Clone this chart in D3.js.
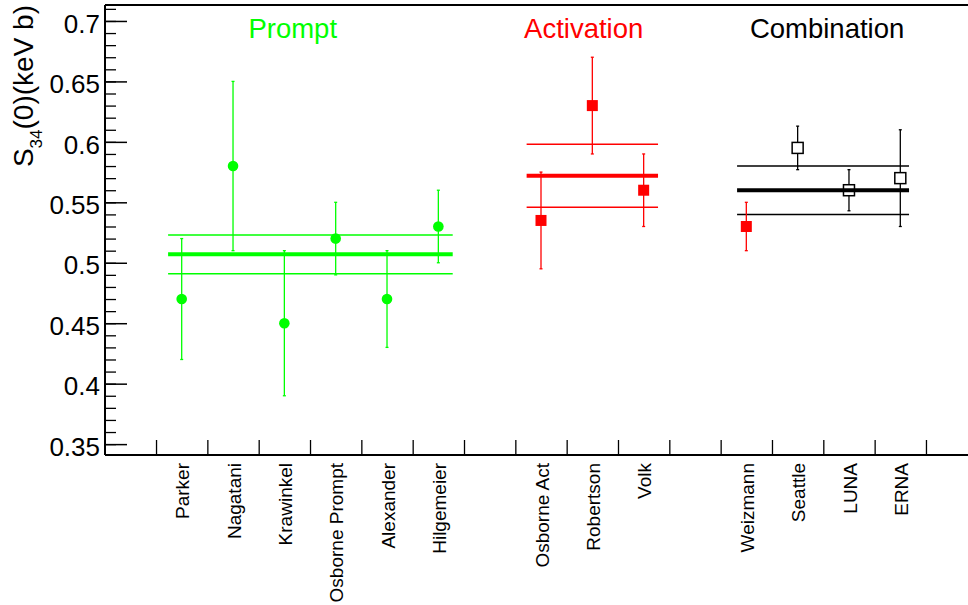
<!DOCTYPE html>
<html>
<head>
<meta charset="utf-8">
<script src="https://cdn.jsdelivr.net/npm/d3@7"></script>
<style>
  html, body { margin: 0; padding: 0; background: #fff; }
  svg { display: block; font-family: "Liberation Sans", Arial, Helvetica, sans-serif; }
</style>
</head>
<body>
<svg id="chart" width="968" height="605"></svg>
<script>
// Bin labels along the x axis (empty strings are spacer bins between groups)
const binLabels = ["Parker", "Nagatani", "Krawinkel", "Osborne Prompt", "Alexander", "Hilgemeier", "",
                   "Osborne Act", "Robertson", "Volk", "",
                   "Weizmann", "Seattle", "LUNA", "ERNA"];

// Prompt-gamma measurements S34(0) [keV b]
const promptNames  = ["Parker", "Nagatani", "Krawinkel", "Osborne Prompt", "Alexander", "Hilgemeier"];
const promptValues = [0.47, 0.58, 0.45, 0.52, 0.47, 0.53];
const promptErrors = [0.05, 0.07, 0.06, 0.03, 0.04, 0.03];

// Activation measurements
const activationNames  = ["Osborne Act", "Robertson", "Volk"];
const activationValues = [0.535, 0.63, 0.56];
const activationErrors = [0.04, 0.04, 0.03];

// Combined (prompt + activation) measurements
const combinationNames   = ["Weizmann", "Seattle", "LUNA", "ERNA"];
const combinationValues  = [0.53, 0.595, 0.56, 0.57];
const combinationErrors  = [0.02, 0.018, 0.017, 0.04];
const combinationSources = ["activation", "combined", "combined", "combined"];

// Weighted averages of each group: mean and its uncertainty
const groupNames  = ["Prompt", "Activation", "Combination"];
const groupMeans  = [0.507, 0.572, 0.560];
const groupErrors = [0.016, 0.026, 0.020];
// Horizontal extent of each average line, in bin units
const groupSpans  = [[1.235, 6.78], [8.22, 10.78], [12.32, 15.67]];
// Left edge of each group title, in bin units
const groupTitleX = [2.8, 8.17, 12.57];

// Y axis ticks
const yMajorTicks = [0.35, 0.4, 0.45, 0.5, 0.55, 0.6, 0.65, 0.7];
const yMinorTicks = d3.range(35, 72).map(v => v / 100);

const GREEN = "#00ff00", RED = "#ff0000", BLACK = "#000000";
const groupColors = [GREEN, RED, BLACK];

const svg = d3.select("#chart");
const W = 968, H = 605;
const plotLeft = 105, plotTop = 5, plotBottom = 455;

// x: bin units (bin i of binLabels spans [i+1, i+2]); y: S34 value
const x = d3.scaleLinear().domain([0, 17]).range([104.7, 977.3]);
const y = d3.scaleLinear().domain([0.341, 0.7132]).range([plotBottom, plotTop]);
const binCenter = name => x(binLabels.indexOf(name) + 1.5);

// ---- frame ----
const frame = svg.append("g").attr("stroke", "#000").attr("stroke-width", 2);
frame.append("line").attr("x1", plotLeft).attr("x2", W).attr("y1", plotTop).attr("y2", plotTop);
frame.append("line").attr("x1", plotLeft).attr("x2", W).attr("y1", plotBottom).attr("y2", plotBottom);
frame.append("line").attr("x1", plotLeft).attr("x2", plotLeft).attr("y1", plotTop).attr("y2", plotBottom);

// ---- y axis ----
const yMinor = svg.append("g").attr("transform", `translate(${plotLeft},0)`)
  .call(d3.axisLeft(y).tickValues(yMinorTicks).tickSize(-11).tickFormat(""));
yMinor.select(".domain").remove();
yMinor.selectAll(".tick line").attr("stroke", "#000").attr("stroke-width", 1.3);

const yMajor = svg.append("g").attr("transform", `translate(${plotLeft},0)`)
  .call(d3.axisLeft(y).tickValues(yMajorTicks).tickSize(-22).tickPadding(5)
        .tickFormat(d => String(d)));
yMajor.select(".domain").remove();
yMajor.selectAll(".tick line").attr("stroke", "#000").attr("stroke-width", 1.5);
yMajor.selectAll(".tick text")
  .attr("font-size", 26).attr("fill", "#000").attr("dy", "0.43em")
  .attr("font-family", "Liberation Sans, Arial, sans-serif");

// y axis title: S_34(0)(keV b)
const yTitle = svg.append("text")
  .attr("transform", `translate(33,${plotTop}) rotate(-90)`)
  .attr("text-anchor", "end")
  .attr("font-size", 28).attr("fill", "#000");
yTitle.append("tspan").text("S");
yTitle.append("tspan").attr("font-size", 17).attr("dy", 9).text("34");
yTitle.append("tspan").attr("dy", -9).text("(0)(keV b)");

// ---- x axis ----
const xTickValues = d3.range(1, binLabels.length + 2);
const xAxis = svg.append("g").attr("transform", `translate(0,${plotBottom})`)
  .call(d3.axisBottom(x).tickValues(xTickValues).tickSize(-15).tickFormat(""));
xAxis.select(".domain").remove();
xAxis.selectAll(".tick line").attr("stroke", "#000").attr("stroke-width", 1.3);

svg.append("g").selectAll("text")
  .data(binLabels.map((d, i) => ({ name: d, i })).filter(d => d.name !== ""))
  .join("text")
  .attr("transform", d => `translate(${x(d.i + 1.5)},463) rotate(-90)`)
  .attr("text-anchor", "end")
  .attr("dy", "0.4em")
  .attr("font-size", 19)
  .attr("fill", "#000")
  .text(d => d.name);

// ---- group averages ----
const avg = svg.append("g");
groupMeans.forEach((m, g) => {
  const [a, b] = groupSpans[g];
  const col = groupColors[g];
  avg.append("line").attr("x1", x(a)).attr("x2", x(b)).attr("y1", y(m)).attr("y2", y(m))
    .attr("stroke", col).attr("stroke-width", 4);
  [m + groupErrors[g], m - groupErrors[g]].forEach(v => {
    avg.append("line").attr("x1", x(a)).attr("x2", x(b)).attr("y1", y(v)).attr("y2", y(v))
      .attr("stroke", col).attr("stroke-width", 1.5);
  });
  svg.append("text")
    .attr("x", x(groupTitleX[g])).attr("y", 37.5)
    .attr("font-size", 27.5).attr("fill", col)
    .text(groupNames[g]);
});

// ---- measurements ----
function drawPoints(names, values, errors, markers) {
  const g = svg.append("g");
  names.forEach((n, i) => {
    const cx = binCenter(n), v = values[i], e = errors[i];
    const mk = markers[i];
    const half = mk.shape === "circle" ? 0 : (mk.fill === "none" ? 5.5 : 0);
    // error bar (kept outside an open marker)
    g.append("line").attr("x1", cx).attr("x2", cx)
      .attr("y1", y(v + e)).attr("y2", y(v) - half)
      .attr("stroke", mk.color).attr("stroke-width", 1.3);
    g.append("line").attr("x1", cx).attr("x2", cx)
      .attr("y1", y(v) + half).attr("y2", y(v - e))
      .attr("stroke", mk.color).attr("stroke-width", 1.3);
    [v + e, v - e].forEach(t => {
      g.append("line").attr("x1", cx - 1.5).attr("x2", cx + 1.5)
        .attr("y1", y(t)).attr("y2", y(t))
        .attr("stroke", mk.color).attr("stroke-width", 1.3);
    });
    if (mk.shape === "circle") {
      g.append("circle").attr("cx", cx).attr("cy", y(v)).attr("r", 5.3).attr("fill", mk.color);
    } else if (mk.fill === "none") {
      g.append("rect").attr("x", cx - 5.5).attr("y", y(v) - 5.5).attr("width", 11).attr("height", 11)
        .attr("fill", "none").attr("stroke", mk.color).attr("stroke-width", 1.5);
    } else {
      g.append("rect").attr("x", cx - 5.5).attr("y", y(v) - 5.5).attr("width", 11).attr("height", 11)
        .attr("fill", mk.color);
    }
  });
}

drawPoints(promptNames, promptValues, promptErrors,
  promptNames.map(() => ({ shape: "circle", color: GREEN })));
drawPoints(activationNames, activationValues, activationErrors,
  activationNames.map(() => ({ shape: "square", color: RED, fill: RED })));
drawPoints(combinationNames, combinationValues, combinationErrors,
  combinationSources.map(s => s === "activation"
    ? { shape: "square", color: RED, fill: RED }
    : { shape: "square", color: BLACK, fill: "none" }));
</script>
</body>
</html>
